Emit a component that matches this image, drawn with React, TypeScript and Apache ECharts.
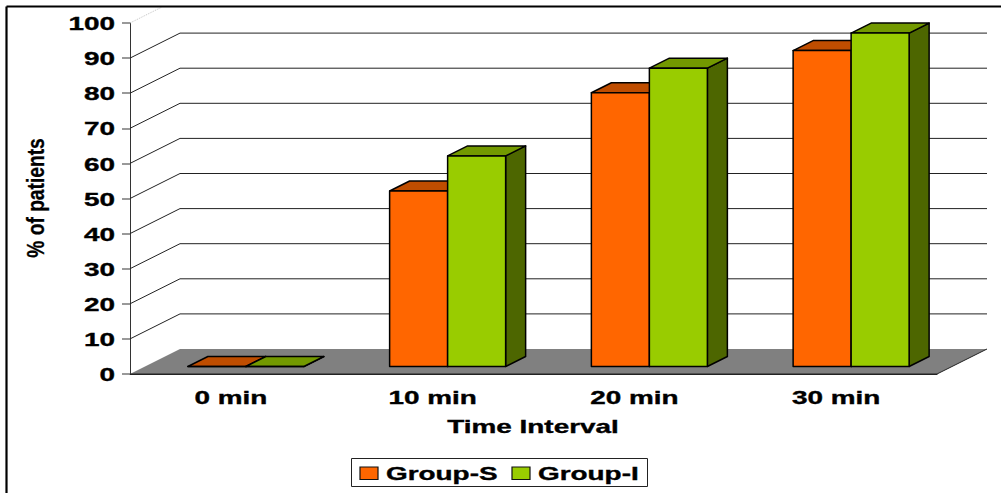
import React, { useEffect, useRef } from "react";
import * as echarts from "echarts";

const categories = ["0 min", "10 min", "20 min", "30 min"];
const groupS = [0, 50, 78, 90];
const groupI = [0, 60, 85, 95];
const yTicks = [0, 10, 20, 30, 40, 50, 60, 70, 80, 90, 100];

const ORANGE = { front: "#ff6600", top: "#bf4d00", side: "#8f3900" };
const GREEN = { front: "#99cc00", top: "#739900", side: "#4d6600" };

const FONT = "'Liberation Sans', Arial, sans-serif";
const WIDE = 1.55;
const WALL_DX = 50;
const WALL_DY = 25;
const BAR_DX = 20;
const BAR_DY = 10;

const wideText = (text: string, x: number, y: number, align: string) => ({
  type: "text",
  x,
  y,
  scaleX: WIDE,
  silent: true,
  style: {
    text,
    x: 0,
    y: 0,
    fill: "#000",
    stroke: "#000",
    lineWidth: 0.35,
    fontFamily: FONT,
    fontWeight: "bold",
    fontSize: 18,
    align,
    verticalAlign: "middle",
  },
});

// One 3D column: side face, top face, then the front face over both.
const columnRenderer = (colors: typeof ORANGE, side: -1 | 1) => (params: any, api: any) => {
  const i = api.value(0);
  const v = api.value(1);
  const band = api.size([1, 0])[0];
  const w = band * 0.2875;
  const [cx, y0] = api.coord([i, 0]);
  const yv = api.coord([i, v])[1];
  const xl = cx + 15 + (side < 0 ? -w : 0);
  const xr = xl + w;
  const base = y0 - 7.5;
  const top = yv - 7.5;
  const stroke = { stroke: "#000", lineWidth: 1.5, lineJoin: "round" };
  return {
    type: "group",
    children: [
      {
        type: "polygon",
        shape: { points: [[xr, top], [xr + BAR_DX, top - BAR_DY], [xr + BAR_DX, base - BAR_DY], [xr, base]] },
        style: { fill: colors.side, ...stroke },
      },
      {
        type: "polygon",
        shape: { points: [[xl, top], [xl + BAR_DX, top - BAR_DY], [xr + BAR_DX, top - BAR_DY], [xr, top]] },
        style: { fill: colors.top, ...stroke },
      },
      {
        type: "rect",
        shape: { x: xl, y: top, width: w, height: base - top },
        style: { fill: colors.front, ...stroke },
      },
    ],
  };
};

export default function App() {
  const ref = useRef<HTMLDivElement>(null);

  useEffect(() => {
    const chart = echarts.init(ref.current!, undefined, { renderer: "svg" });
    chart.setOption({
      animation: false,
      backgroundColor: "#fff",
      grid: { left: 130, right: 64, top: 23, bottom: 119 },
      xAxis: {
        type: "category",
        data: categories,
        boundaryGap: true,
        axisLine: { onZero: false, lineStyle: { color: "#222", width: 1 } },
        axisTick: { length: 6, interval: 0, lineStyle: { color: "#222", width: 1 } },
        axisLabel: { show: false },
        splitLine: { show: false },
      },
      yAxis: {
        type: "value",
        min: 0,
        max: 100,
        interval: 10,
        axisLine: { show: true, lineStyle: { color: "#333", width: 1 } },
        axisTick: { show: true, length: 8, lineStyle: { color: "#777", width: 1.5 } },
        axisLabel: { show: false },
        splitLine: { show: false },
      },
      series: [
        {
          // Receding wall lines, one per y tick
          type: "custom",
          name: "wall",
          silent: true,
          clip: false,
          z: 1,
          data: yTicks.filter((v) => v > 0).map((v) => [0, v]),
          renderItem: (params: any, api: any) => {
            const v = api.value(1);
            const y = api.coord([0, v])[1];
            const { x, width } = params.coordSys;
            if (v === 100) {
              return {
                type: "line",
                shape: { x1: x, y1: y, x2: x + 32, y2: y - 16 },
                style: { stroke: "#c4c4c4", lineWidth: 1, lineDash: [1, 1] },
              };
            }
            return {
              type: "polyline",
              shape: { points: [[x, y], [x + WALL_DX, y - WALL_DY], [x + width + WALL_DX, y - WALL_DY]] },
              style: { stroke: "#222", lineWidth: 1, fill: "none" },
            };
          },
        },
        {
          // Grey floor of the plot
          type: "custom",
          name: "floor",
          silent: true,
          clip: false,
          z: 2,
          data: [[0, 0]],
          renderItem: (params: any, api: any) => {
            const y = api.coord([0, 0])[1];
            const { x, width } = params.coordSys;
            return {
              type: "group",
              children: [
                {
                  type: "polygon",
                  shape: {
                    points: [
                      [x, y],
                      [x + WALL_DX, y - WALL_DY],
                      [x + width + WALL_DX, y - WALL_DY],
                      [x + width, y],
                    ],
                  },
                  style: { fill: "#808080" },
                },
                {
                  type: "polyline",
                  shape: { points: [[x, y], [x + width, y], [x + width + WALL_DX, y - WALL_DY]] },
                  style: { stroke: "#222", lineWidth: 1, fill: "none" },
                },
              ],
            };
          },
        },
        {
          type: "custom",
          name: "Group-S",
          clip: false,
          z: 3,
          data: groupS.map((v, i) => [i, v]),
          renderItem: columnRenderer(ORANGE, -1),
        },
        {
          type: "custom",
          name: "Group-I",
          clip: false,
          z: 4,
          data: groupI.map((v, i) => [i, v]),
          renderItem: columnRenderer(GREEN, 1),
        },
        {
          // Stretched category labels
          type: "custom",
          name: "xLabels",
          silent: true,
          clip: false,
          z: 5,
          data: categories.map((_, i) => [i, 0]),
          renderItem: (params: any, api: any) => {
            const i = api.value(0);
            const [x, y] = api.coord([i, 0]);
            return wideText(categories[i], x, y + 24, "center");
          },
        },
        {
          // Stretched value labels
          type: "custom",
          name: "yLabels",
          silent: true,
          clip: false,
          z: 5,
          data: yTicks.map((v) => [0, v]),
          renderItem: (params: any, api: any) => {
            const v = api.value(1);
            const y = api.coord([0, v])[1];
            return wideText(String(v), params.coordSys.x - 15, y + 1, "right");
          },
        },
      ],
      graphic: [
        { type: "line", shape: { x1: 6.5, y1: 6.5, x2: 1001, y2: 6.5 }, style: { stroke: "#000", lineWidth: 2.2 }, z: 10 },
        { type: "line", shape: { x1: 6.5, y1: 6.5, x2: 6.5, y2: 493 }, style: { stroke: "#000", lineWidth: 2.2 }, z: 10 },
        wideText("Time Interval", 533, 427, "center"),
        {
          type: "text",
          x: 36,
          y: 198,
          rotation: Math.PI / 2,
          scaleX: 0.8,
          style: {
            text: "% of patients",
            x: 0,
            y: 0,
            fill: "#000",
            stroke: "#000",
            lineWidth: 0.3,
            fontFamily: FONT,
            fontWeight: "bold",
            fontSize: 24,
            align: "center",
            verticalAlign: "middle",
          },
        },
        // Legend box
        {
          type: "rect",
          shape: { x: 351.5, y: 458.5, width: 296, height: 28 },
          style: { fill: "#fff", stroke: "#222", lineWidth: 1 },
        },
        {
          type: "rect",
          shape: { x: 360, y: 467, width: 18, height: 12.5 },
          style: { fill: ORANGE.front, stroke: "#111", lineWidth: 1.2 },
        },
        wideText("Group-S", 386, 474, "left"),
        {
          type: "rect",
          shape: { x: 512, y: 467, width: 18, height: 12.5 },
          style: { fill: GREEN.front, stroke: "#111", lineWidth: 1.2 },
        },
        wideText("Group-I", 538, 474, "left"),
      ],
    });
    return () => chart.dispose();
  }, []);

  return (
    <div
      ref={ref}
      style={{ position: "fixed", left: 0, top: 0, width: 1001, height: 493 }}
    />
  );
}
